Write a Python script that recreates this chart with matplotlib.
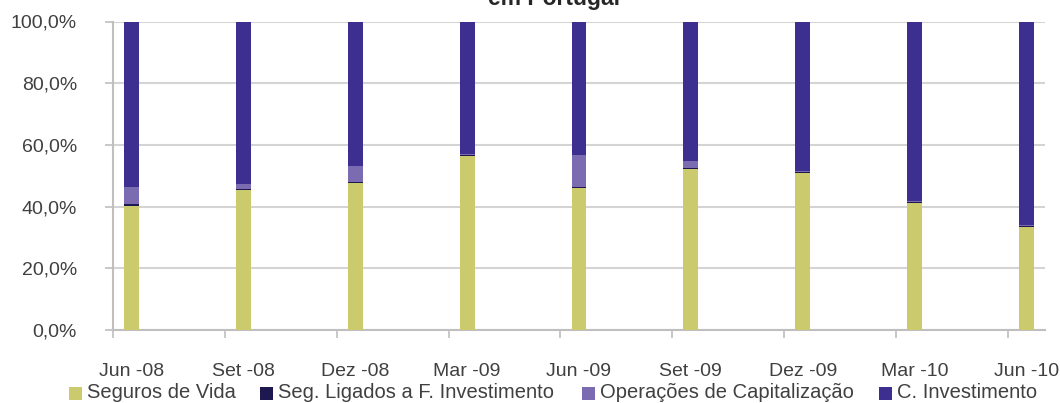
import matplotlib
matplotlib.use("Agg")
import matplotlib.pyplot as plt
from matplotlib.patches import Rectangle
from matplotlib.ticker import FixedLocator, FuncFormatter

# Quarter labels and share of each product line (%)
periodos = ["Jun -08", "Set -08", "Dez -08", "Mar -09", "Jun -09",
            "Set -09", "Dez -09", "Mar -10", "Jun -10"]
seguros_vida = [40.3, 45.4, 47.7, 56.5, 46.1, 52.3, 51.0, 41.3, 33.4]
seg_ligados = [0.5, 0.4, 0.3, 0.2, 0.4, 0.2, 0.1, 0.1, 0.4]
op_capitalizacao = [5.5, 1.6, 5.1, 0.4, 10.2, 2.2, 0.3, 0.4, 0.2]
c_investimento = [53.7, 52.6, 46.9, 42.9, 43.3, 45.3, 48.6, 58.2, 66.0]

series = ["Seguros de Vida", "Seg. Ligados a F. Investimento",
          "Operações de Capitalização", "C. Investimento"]
cores = ["#CBCB6E", "#1E1850", "#7B6CB1", "#3D2F8F"]

FONT = ["Liberation Sans", "DejaVu Sans"]
TXT = "#404040"
GRID = "#D4D4D4"
AXC = "#BFBFBF"

W, H = 1060, 403
fig = plt.figure(figsize=(W / 100, H / 100), dpi=100)
ax = fig.add_axes([113 / W, 1 - 330 / H, (1045 - 113) / W, (330 - 21.5) / H])

# monthly date axis: one slot per month, a bar every quarter
meses = [3 * i + 0.5 for i in range(len(periodos))]
largura = 0.4
base = [0.0] * len(periodos)
for nome, valores, cor in zip(series, [seguros_vida, seg_ligados, op_capitalizacao, c_investimento], cores):
    ax.bar(meses, valores, width=largura, bottom=base, color=cor,
           edgecolor="none", linewidth=0, zorder=3, label=nome)
    base = [b + v for b, v in zip(base, valores)]

ax.set_xlim(0, 25)
ax.set_ylim(0, 100)

# y axis
ax.set_yticks(range(0, 101, 20))
ax.yaxis.set_major_formatter(FuncFormatter(lambda v, p: f"{v:.1f}%".replace(".", ",")))
ax.grid(axis="y", color=GRID, linewidth=1.5, zorder=0)
ax.tick_params(axis="y", length=6, width=1.2, color=AXC, pad=20,
               labelsize=14, labelcolor=TXT)

# x axis: tick marks on quarter boundaries, labels on the bars
ax.xaxis.set_major_locator(FixedLocator(list(range(0, 25, 3))))
ax.xaxis.set_major_formatter(FuncFormatter(lambda v, p: ""))
ax.xaxis.set_minor_locator(FixedLocator(meses))
ax.set_xticklabels(periodos, minor=True)
ax.tick_params(axis="x", which="major", length=6, width=1.2, color=AXC)
ax.tick_params(axis="x", which="minor", length=0, pad=24,
               labelsize=14, labelcolor=TXT)

for lbl in ax.get_yticklabels() + ax.get_xticklabels(minor=True):
    lbl.set_family(FONT)

for s in ["top", "right"]:
    ax.spines[s].set_visible(False)
for s in ["left", "bottom"]:
    ax.spines[s].set_color(AXC)
    ax.spines[s].set_linewidth(1.5)

# title (second line, running off the top edge)
fig.text(554 / W, 1 - 5 / H, "em Portugal", ha="center", va="baseline",
         fontsize=16.5, fontweight="bold", color="#262626", family=FONT)

# legend row
leg_x = [69, 260, 582, 879]
leg_y = 393
for x, nome, cor in zip(leg_x, series, cores):
    fig.patches.append(Rectangle((x / W, 1 - (leg_y + 6.5) / H), 13 / W, 13 / H,
                                 transform=fig.transFigure, facecolor=cor,
                                 edgecolor="none"))
    fig.text((x + 18) / W, 1 - leg_y / H, nome, ha="left", va="center",
             fontsize=14.5, color=TXT, family=FONT)

fig.savefig("out.png", dpi=100)
